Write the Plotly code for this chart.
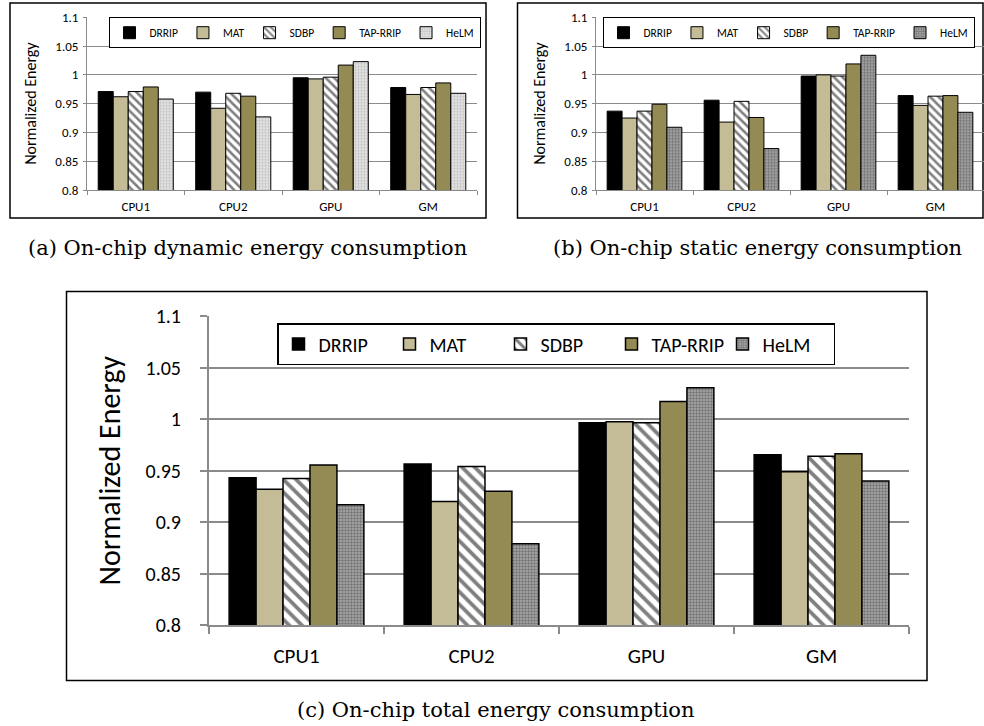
import plotly.graph_objects as go

# ---- data -------------------------------------------------------------
categories = ["CPU1", "CPU2", "GPU", "GM"]
policies = ["DRRIP", "MAT", "SDBP", "TAP-RRIP", "HeLM"]

dynamic_energy = {
    "DRRIP":    [0.971, 0.970, 0.995, 0.978],
    "MAT":      [0.962, 0.942, 0.993, 0.966],
    "SDBP":     [0.971, 0.968, 0.996, 0.978],
    "TAP-RRIP": [0.979, 0.963, 1.017, 0.986],
    "HeLM":     [0.958, 0.927, 1.023, 0.968],
}
static_energy = {
    "DRRIP":    [0.937, 0.956, 0.998, 0.964],
    "MAT":      [0.925, 0.918, 1.000, 0.947],
    "SDBP":     [0.937, 0.954, 0.998, 0.963],
    "TAP-RRIP": [0.949, 0.926, 1.019, 0.964],
    "HeLM":     [0.909, 0.872, 1.034, 0.935],
}
total_energy = {
    "DRRIP":    [0.943, 0.9565, 0.9965, 0.9655],
    "MAT":      [0.932, 0.920, 0.9975, 0.949],
    "SDBP":     [0.9425, 0.954, 0.9965, 0.964],
    "TAP-RRIP": [0.9555, 0.930, 1.017, 0.9665],
    "HeLM":     [0.917, 0.879, 1.0305, 0.940],
}

y_tickvals = [0.8, 0.85, 0.9, 0.95, 1.0, 1.05, 1.1]
y_ticktext = ["0.8", "0.85", "0.9", "0.95", "1", "1.05", "1.1"]

captions = [
    "(a) On-chip dynamic energy consumption",
    "(b) On-chip static energy consumption",
    "(c) On-chip total energy consumption",
]

# ---- styling ----------------------------------------------------------
W, H = 984, 726
FONT = "Carlito, Lato, sans-serif"
SERIF = "DejaVu Serif, serif"
GRID = "#8a8a8a"


def fx(px):
    return px / W


def fy(py):
    return 1 - py / H


def bar_marker(policy, big, light_dots):
    lw = 1.5 if big else 1
    m = dict(line=dict(color="black", width=lw))
    if policy == "DRRIP":
        m["color"] = "black"
    elif policy == "MAT":
        m["color"] = "#c4bc96"
    elif policy == "SDBP":
        m["color"] = "white"
        m["pattern"] = dict(shape="\\", fgcolor="black", bgcolor="white",
                            size=9 if big else 6, solidity=0.42)
    elif policy == "TAP-RRIP":
        m["color"] = "#948a54"
    else:
        if light_dots:
            m["color"] = "#d8d8d8"
            m["pattern"] = dict(shape=".", fgcolor="#9a9a9a", bgcolor="#ececec",
                                size=3, solidity=0.5)
        else:
            m["color"] = "#8c8c8c"
            m["pattern"] = dict(shape=".", fgcolor="#3c3c3c", bgcolor="#ababab",
                                size=3, solidity=0.5)
    return m


panels = [
    dict(data=dynamic_energy, ax="", leg="legend", box=(87, 17.3, 477, 190),
         big=False, light=True, leg_pos=(294.5, 32.7), ew=0),
    dict(data=static_energy, ax="2", leg="legend2", box=(596, 17.3, 984, 190),
         big=False, light=False, leg_pos=(788.5, 32.7), ew=0),
    dict(data=total_energy, ax="3", leg="legend3", box=(209, 316, 909, 625.3),
         big=True, light=False, leg_pos=(556, 344), ew=66),
]

fig = go.Figure()
layout = dict(
    width=W, height=H,
    margin=dict(l=0, r=0, t=0, b=0, autoexpand=False),
    paper_bgcolor="white", plot_bgcolor="white",
    barmode="group", bargap=0.23, bargroupgap=0,
    font=dict(family=FONT, color="black"),
    annotations=[], shapes=[],
)

for p in panels:
    ax = p["ax"]
    big = p["big"]
    for pol in policies:
        fig.add_trace(go.Bar(
            x=categories, y=p["data"][pol], name=pol,
            xaxis="x" + ax, yaxis="y" + ax, legend=p["leg"],
            marker=bar_marker(pol, big, p["light"]),
        ))
    x0, y0, x1, y1 = p["box"]
    layout["xaxis" + ax] = dict(
        domain=[fx(x0), min(fx(x1), 1.0)], anchor="y" + ax, automargin=False,
        type="category", range=[-0.5, 3.5],
        showgrid=False, showline=True, linecolor=GRID, linewidth=2 if big else 1,
        ticks="outside", tickson="boundaries", ticklen=7 if big else 4,
        tickcolor=GRID, tickwidth=2 if big else 1,
        tickfont=dict(size=21 if big else 13, family=FONT),
        ticklabelstandoff=10 if big else 4,
    )
    layout["yaxis" + ax] = dict(
        domain=[fy(y1), fy(y0)], anchor="x" + ax, automargin=False,
        range=[0.8, 1.1], tickvals=y_tickvals, ticktext=y_ticktext,
        showgrid=True, gridcolor=GRID, gridwidth=2 if big else 1,
        showline=True, linecolor=GRID, linewidth=2 if big else 1,
        ticks="outside", ticklen=7 if big else 3, tickcolor=GRID,
        tickwidth=2 if big else 1,
        tickfont=dict(size=20 if big else 13, family=FONT),
        ticklabelstandoff=15 if big else 2,
        zeroline=False,
        title=dict(text="Normalized Energy",
                   font=dict(size=30 if big else 16, family=FONT),
                   standoff=16 if big else 14),
    )
    lx, ly = p["leg_pos"]
    leg = dict(
        orientation="h", x=fx(lx), y=fy(ly), xanchor="center", yanchor="middle",
        bgcolor="white", bordercolor="black", borderwidth=1 if not big else 1.5,
        font=dict(size=20 if big else 11.5, family=FONT),
        itemwidth=30, traceorder="normal", tracegroupgap=0,
    )
    if p["ew"]:
        leg.update(entrywidth=p["ew"], entrywidthmode="pixels")
    layout[p["leg"]] = leg

# panel frames
for (fx0, fy0, fx1, fy1) in [(10, 3, 486, 218), (517.5, 3, 983, 218),
                             (66.5, 291.5, 927, 680.5)]:
    layout["shapes"].append(dict(
        type="rect", xref="paper", yref="paper",
        x0=fx(fx0), x1=fx(fx1), y0=fy(fy1), y1=fy(fy0),
        line=dict(color="black", width=1.5), fillcolor="rgba(0,0,0,0)",
        layer="below",
    ))

# sub-figure captions
for text, cx, cy in zip(captions, [247, 757, 496], [248, 248, 710]):
    layout["annotations"].append(dict(
        text=text, xref="paper", yref="paper", x=fx(cx), y=fy(cy),
        xanchor="center", yanchor="middle", showarrow=False,
        font=dict(family=SERIF, size=21, color="black"),
    ))

fig.update_layout(**layout)
fig.write_html("out.html")
